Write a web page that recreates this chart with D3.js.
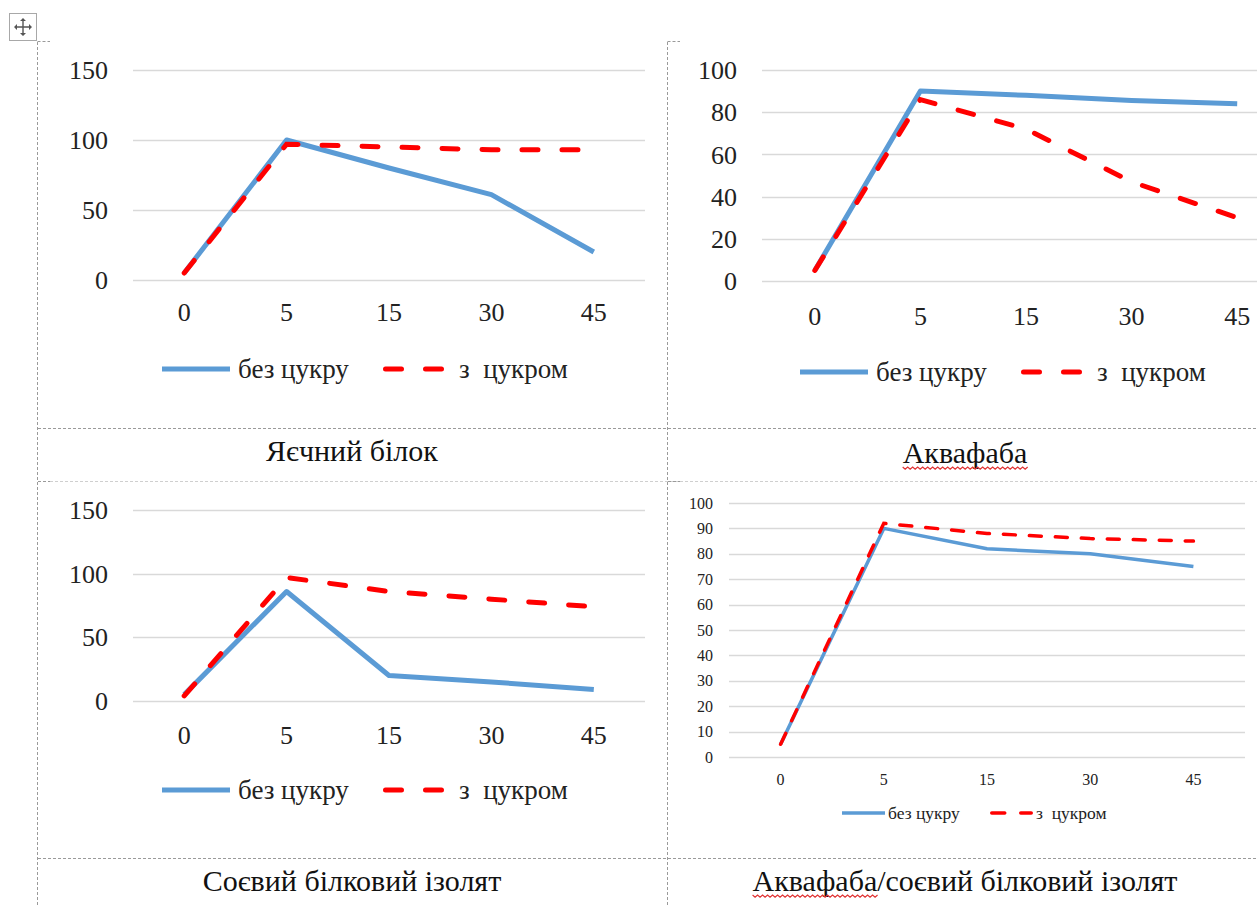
<!DOCTYPE html>
<html>
<head>
<meta charset="utf-8">
<script src="https://cdn.jsdelivr.net/npm/d3@7"></script>
<style>
  html, body { margin: 0; padding: 0; background: #fff; }
  svg { display: block; }
</style>
</head>
<body>
<svg id="page" width="1257" height="907"></svg>
<script>
// time points (x categories)
const times = ["0", "5", "15", "30", "45"]
const seriesNames = ["без цукру", "з  цукром"]

// Яєчний білок
const eggNoSugar = [5, 100, 80, 61, 20]
const eggSugar = [5, 97, 95, 93, 93]
// Аквафаба
const aquaNoSugar = [5, 90, 88, 85.5, 84]
const aquaSugar = [5, 86, 72, 47, 30]
// Соєвий білковий ізолят
const soyNoSugar = [5, 86, 20, 15, 9]
const soySugar = [4, 97, 86, 80, 74]
// Аквафаба/соєвий білковий ізолят
const mixNoSugar = [5, 90, 82, 80, 75]
const mixSugar = [5, 92, 88, 86, 85]

const ticks150 = [0, 50, 100, 150]
const ticks100by20 = [0, 20, 40, 60, 80, 100]
const ticks100by10 = [0, 10, 20, 30, 40, 50, 60, 70, 80, 90, 100]

const captions = ["Яєчний білок", "Аквафаба", "Соєвий білковий ізолят", "Аквафаба/соєвий білковий ізолят"]

const BLUE = "#5b9bd5"
const RED = "#ff0000"
const TEXT = "#222"
const SERIF = "'Liberation Serif', 'Times New Roman', serif"

const svg = d3.select("#page")

// ---- table grid (dashed cell borders) ----
const grid = svg.append("g")
    .attr("stroke-width", 1)
    .attr("stroke-dasharray", "3,2")
    .attr("fill", "none")

const gline = (x1, y1, x2, y2, col) => {
    grid.append("line")
        .attr("x1", x1).attr("y1", y1).attr("x2", x2).attr("y2", y2)
        .attr("stroke", col || "#9a9a9a")
}
gline(37.5, 42, 37.5, 907)
gline(37.5, 41.5, 50, 41.5)
gline(667.5, 42, 667.5, 907)
gline(667.5, 41.5, 680, 41.5)
gline(38, 428.5, 1257, 428.5)
gline(50, 481.5, 1257, 481.5, "#cfcfcf")
gline(38, 481.5, 50, 481.5)
gline(668, 481.5, 680, 481.5)
gline(38, 858.5, 1257, 858.5)

// ---- move handle icon ----
const icon = svg.append("g")
icon.append("rect")
    .attr("x", 9.5).attr("y", 13.5).attr("width", 27).attr("height", 27)
    .attr("fill", "#fff").attr("stroke", "#a8a8a8")
const cx = 23, cy = 27
icon.append("path")
    .attr("d", `M${cx - 8},${cy}H${cx + 8}M${cx},${cy - 8}V${cy + 8}`)
    .attr("stroke", "#555").attr("stroke-width", 1.4)
icon.append("path")
    .attr("d", [
        `M${cx - 9},${cy}l3,-3v6z`, `M${cx + 9},${cy}l-3,-3v6z`,
        `M${cx},${cy - 9}l-3,3h6z`, `M${cx},${cy + 9}l-3,-3h6z`
    ].join(""))
    .attr("fill", "#555")

// ---- one line chart ----
function drawChart(c) {
    const g = svg.append("g")

    const x = d3.scaleBand().domain(times).range([c.left, c.right]).padding(0)
    const px = d => x(d) + x.bandwidth() / 2
    const y = d3.scaleLinear().domain([0, c.max]).range([c.bottom, c.top])

    // horizontal gridlines
    g.append("g")
        .selectAll("line")
        .data(c.ticks)
        .join("line")
        .attr("x1", c.left).attr("x2", Math.min(c.right, 1257))
        .attr("y1", d => Math.round(y(d)) + 0.5).attr("y2", d => Math.round(y(d)) + 0.5)
        .attr("stroke", "#d9d9d9").attr("stroke-width", 1.3)

    // y tick labels
    g.append("g")
        .selectAll("text")
        .data(c.ticks)
        .join("text")
        .attr("x", c.left - c.yPad)
        .attr("y", d => y(d))
        .attr("dy", "0.35em")
        .attr("text-anchor", "end")
        .style("font-family", SERIF)
        .style("font-size", c.font + "px")
        .attr("fill", TEXT)
        .text(d => d)

    // x tick labels
    g.append("g")
        .selectAll("text")
        .data(times)
        .join("text")
        .attr("x", d => px(d))
        .attr("y", c.xLabelY)
        .attr("dy", "0.35em")
        .attr("text-anchor", "middle")
        .style("font-family", SERIF)
        .style("font-size", c.font + "px")
        .attr("fill", TEXT)
        .text(d => d)

    const line = d3.line()
        .x((d, i) => px(times[i]))
        .y(d => y(d))

    g.append("path")
        .datum(c.noSugar)
        .attr("d", line)
        .attr("fill", "none")
        .attr("stroke", BLUE)
        .attr("stroke-width", c.lw)
        .attr("stroke-linejoin", "round")

    g.append("path")
        .datum(c.sugar)
        .attr("d", line)
        .attr("fill", "none")
        .attr("stroke", RED)
        .attr("stroke-width", c.lw)
        .attr("stroke-linecap", "round")
        .attr("stroke-dasharray", c.dash)

    // legend
    const lg = g.append("g")
    lg.append("line")
        .attr("x1", c.legX).attr("x2", c.legX + c.legLen)
        .attr("y1", c.legY).attr("y2", c.legY)
        .attr("stroke", BLUE).attr("stroke-width", c.lw)
    lg.append("text")
        .attr("x", c.legX + c.legLen + c.legGap)
        .attr("y", c.legY).attr("dy", "0.35em")
        .style("font-family", SERIF).style("font-size", c.legFont + "px")
        .attr("fill", TEXT)
        .text(seriesNames[0])
    const rx = c.legX + c.legShift
    lg.append("line")
        .attr("x1", rx + c.lw / 2).attr("x2", rx + c.legLen - c.lw / 2)
        .attr("y1", c.legY).attr("y2", c.legY)
        .attr("stroke", RED).attr("stroke-width", c.lw)
        .attr("stroke-linecap", "round")
        .attr("stroke-dasharray", c.legDash)
    lg.append("text")
        .attr("x", rx + c.legLen + c.legGap)
        .attr("y", c.legY).attr("dy", "0.35em")
        .style("font-family", SERIF).style("font-size", c.legFont + "px")
        .attr("fill", TEXT)
        .style("white-space", "pre")
        .text(seriesNames[1])
}

const big = { font: 26, legFont: 27, yPad: 25, lw: 5, dash: "16 24", legLen: 68, legGap: 8, legShift: 221, legDash: "16 24" }

drawChart(Object.assign({}, big, {
    left: 133, right: 645, top: 70, bottom: 280, max: 150, ticks: ticks150,
    xLabelY: 312, noSugar: eggNoSugar, sugar: eggSugar, legX: 162, legY: 369
}))
drawChart(Object.assign({}, big, {
    left: 762, right: 1290, top: 70, bottom: 281, max: 100, ticks: ticks100by20,
    xLabelY: 316, noSugar: aquaNoSugar, sugar: aquaSugar, legX: 800, legY: 372
}))
drawChart(Object.assign({}, big, {
    left: 133, right: 645, top: 510, bottom: 701, max: 150, ticks: ticks150,
    xLabelY: 735, noSugar: soyNoSugar, sugar: soySugar, legX: 162, legY: 790
}))
drawChart({
    font: 16, legFont: 17.5, yPad: 16, lw: 3.5, dash: "12 14", legLen: 43, legGap: 3, legShift: 148, legDash: "13 16",
    left: 729, right: 1245, top: 503, bottom: 757, max: 100, ticks: ticks100by10,
    xLabelY: 779, noSugar: mixNoSugar, sugar: mixSugar, legX: 842, legY: 813
})

// ---- captions under each chart ----
const capPos = [[352, 450], [965, 452], [352, 880], [965, 880]]
captions.forEach((t, i) => {
    const txt = svg.append("text")
        .attr("x", capPos[i][0]).attr("y", capPos[i][1])
        .attr("dy", "0.35em")
        .attr("text-anchor", "middle")
        .style("font-family", SERIF).style("font-size", "30px")
        .attr("fill", "#111")
        .text(t)
    // spell-check squiggle under "Аквафаба"
    if (t.startsWith("Аквафаба")) {
        const node = txt.node()
        const start = node.getStartPositionOfChar(0).x
        const end = start + node.getSubStringLength(0, 8)
        const wy = capPos[i][1] + 15
        let d = `M${start},${wy}`
        for (let xx = start, k = 0; xx < end; xx += 2.5, k++) {
            d += `L${xx + 2.5},${wy + (k % 2 ? 0 : 2.2)}`
        }
        svg.append("path").attr("d", d)
            .attr("fill", "none").attr("stroke", "#e03333").attr("stroke-width", 1.2)
    }
})
</script>
</body>
</html>
